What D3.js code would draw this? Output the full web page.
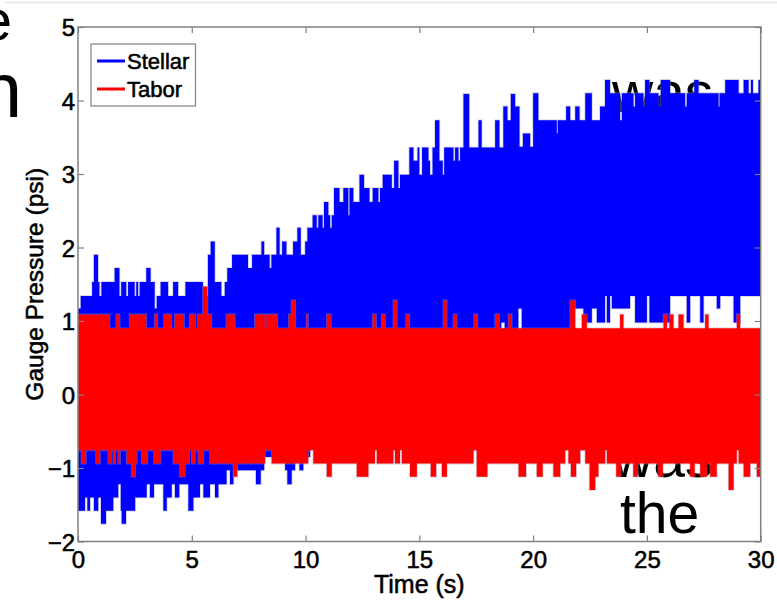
<!DOCTYPE html>
<html>
<head>
<meta charset="utf-8">
<script src="https://cdn.jsdelivr.net/npm/d3@7"></script>
<style>
  html, body { margin: 0; padding: 0; background: #ffffff; }
  svg { display: block; }
</style>
</head>
<body>
<svg id="chart" width="777" height="600"></svg>
<script>
// ---- data ---------------------------------------------------------------
const timeTicks = [0, 5, 10, 15, 20, 25, 30];
const pressureTicks = [-2, -1, 0, 1, 2, 3, 4, 5];
const seriesNames = ["Stellar", "Tabor"];
const seriesColors = ["#0000ff", "#ff0000"];
const xLabel = "Time (s)";
const yLabel = "Gauge Pressure (psi)";

// Each gauge signal is a dense, quantised trace; it is stored as the
// upper and lower envelope, [time (s), pressure (psi)], held until the next entry.
const stellarHigh = [[0,1.17],[0.12,1.34],[0.62,1.53],[0.70,1.90],[0.88,1.53],[0.94,1.34],[1.03,1.53],[1.61,1.72],[1.82,1.34],[1.90,1.53],[2.12,1.34],[2.20,1.53],[2.49,1.34],[2.56,1.53],[2.64,1.34],[2.71,1.53],[3.00,1.72],[3.19,1.53],[3.37,1.17],[3.46,1.34],[3.63,1.53],[3.96,1.34],[4.18,1.53],[4.40,1.34],[4.72,1.53],[5.49,1.34],[5.71,1.90],[5.83,2.08],[6.01,1.53],[6.30,1.34],[6.45,1.53],[6.56,1.72],[6.77,1.90],[7.47,1.72],[7.65,1.90],[8.06,2.08],[8.18,1.90],[8.42,1.72],[8.50,1.90],[8.72,2.27],[8.86,1.90],[8.97,2.08],[9.16,1.90],[9.45,2.08],[9.64,2.27],[9.79,1.90],[9.98,2.08],[10.08,2.27],[10.31,2.44],[10.49,2.27],[10.56,2.44],[10.75,2.27],[10.81,2.62],[11.00,2.44],[11.08,2.27],[11.15,2.44],[11.25,2.81],[11.49,2.62],[11.66,2.81],[11.88,2.44],[11.93,2.81],[12.10,2.62],[12.37,2.99],[12.57,2.81],[12.81,2.62],[12.95,2.81],[13.20,2.62],[13.27,2.81],[13.39,2.99],[13.79,2.81],[13.89,3.18],[14.08,2.81],[14.15,2.99],[14.56,3.36],[14.74,3.18],[14.92,3.36],[15.00,2.99],[15.12,3.36],[15.40,3.18],[15.47,2.99],[15.58,3.36],[15.69,3.73],[15.88,3.18],[16.03,2.99],[16.09,3.36],[16.50,3.18],[16.57,3.36],[16.72,3.18],[16.79,3.36],[16.94,4.09],[17.19,3.36],[17.60,3.73],[17.74,3.36],[18.33,3.73],[18.52,3.36],[18.69,3.92],[18.87,3.73],[19.02,4.09],[19.21,3.92],[19.40,3.37],[19.55,3.55],[19.87,3.37],[20.00,4.10],[20.23,3.73],[21.04,3.55],[21.08,3.73],[21.45,3.92],[21.63,3.73],[21.85,3.92],[22.04,3.73],[22.29,4.10],[22.58,3.73],[22.94,3.92],[23.16,4.28],[23.38,4.10],[23.82,3.73],[23.90,4.10],[24.41,3.92],[24.48,4.10],[24.85,3.92],[24.92,4.28],[25.11,4.10],[25.51,3.92],[25.61,4.28],[26.02,4.10],[26.68,3.92],[26.75,4.10],[27.08,4.28],[27.27,4.10],[28.15,3.92],[28.19,4.10],[28.44,4.28],[29.03,4.10],[29.25,4.28],[29.47,4.10],[29.57,4.28],[29.66,4.10],[29.90,4.28]];

const stellarLow = [[0,-1.58],[0.31,-1.40],[0.41,-1.58],[0.53,-1.40],[0.70,-1.58],[0.89,-1.40],[1.01,-1.76],[1.23,-1.58],[1.55,-1.40],[1.77,-1.22],[1.88,-1.58],[1.92,-1.76],[2.11,-1.58],[2.51,-1.40],[3.02,-1.22],[3.16,-1.40],[3.34,-1.22],[3.75,-1.58],[3.90,-1.40],[4.12,-1.22],[4.26,-1.40],[4.45,-1.22],[4.85,-1.58],[5.07,-1.40],[5.36,-1.22],[5.51,-1.40],[5.80,-1.22],[6.02,-1.40],[6.17,-1.22],[6.53,-1.03],[6.68,-1.22],[6.83,-1.03],[7.82,-1.22],[8.03,-1.03],[8.18,-0.85],[9.10,-1.03],[9.20,-1.22],[9.39,-1.03],[9.54,-0.85],[9.73,-1.03],[9.90,-0.85],[10.20,-0.67],[11,-0.48],[12,-0.30],[13,-0.12],[14,0.07],[15,0.25],[16,0.43],[17,0.62],[18,0.80],[18.60,0.98],[18.75,0.80],[19.35,1.17],[19.50,0.80],[21.77,1.17],[22.21,0.98],[22.58,1.17],[22.80,0.98],[23.16,1.34],[23.24,0.98],[23.38,1.34],[23.46,1.17],[24.26,1.34],[24.48,0.98],[25.00,1.34],[25.11,0.98],[26.02,1.34],[26.75,0.98],[26.90,1.34],[27.34,0.98],[27.49,1.34],[28.07,1.17],[28.22,1.34],[28.81,0.98],[29.10,1.34]];

const taborHigh = [[0,1.09],[1.39,0.90],[1.68,1.09],[1.83,0.90],[2.27,1.09],[3.00,0.90],[3.37,1.09],[3.49,0.90],[3.78,1.09],[4.10,0.90],[4.25,1.09],[4.66,0.90],[4.91,1.09],[5.16,0.90],[5.27,1.09],[5.49,1.47],[5.69,1.09],[5.86,0.90],[6.52,1.09],[6.89,0.90],[7.77,1.09],[8.21,0.90],[8.28,1.09],[8.76,0.90],[9.26,1.09],[9.38,1.28],[9.55,0.90],[10.04,1.09],[10.11,0.90],[10.93,1.09],[11.11,0.90],[12.95,1.09],[13.10,0.90],[13.35,1.09],[13.49,0.90],[13.86,1.28],[14.01,0.90],[14.42,1.09],[14.56,0.90],[16.06,1.28],[16.20,0.90],[16.50,1.09],[16.64,0.90],[17.41,1.09],[17.55,0.90],[18.33,1.09],[18.50,0.90],[18.92,1.09],[19.06,0.90],[21.63,1.28],[21.85,0.90],[22.14,1.09],[22.36,0.90],[23.82,1.09],[23.97,0.90],[25.73,1.09],[25.88,0.90],[25.99,1.09],[26.17,0.90],[26.39,1.09],[26.61,0.90],[27.56,1.09],[27.71,0.90],[28.95,1.09],[29.10,0.90]];

const taborLow = [[0,-0.76],[0.15,-0.94],[0.35,-0.76],[0.79,-0.94],[0.97,-0.76],[1.33,-0.94],[1.45,-0.76],[1.55,-0.94],[1.63,-0.76],[1.77,-0.94],[1.85,-0.76],[2.14,-0.94],[2.36,-1.12],[2.51,-0.94],[2.58,-0.76],[2.80,-0.94],[3.05,-0.76],[3.34,-0.94],[3.63,-0.76],[4.19,-0.94],[4.48,-1.12],[4.70,-0.94],[4.89,-0.76],[5.00,-0.94],[5.14,-0.76],[5.29,-0.94],[5.51,-0.76],[5.80,-0.94],[6.83,-1.12],[7.00,-0.94],[8.22,-0.76],[8.51,-0.94],[10.12,-0.76],[10.34,-0.94],[10.93,-1.12],[11.15,-0.94],[12.25,-1.12],[12.76,-0.94],[13.05,-0.76],[13.13,-0.94],[13.86,-0.76],[13.93,-0.94],[14.15,-0.76],[14.23,-0.94],[14.59,-1.12],[14.89,-0.94],[15.50,-1.12],[15.74,-0.94],[15.99,-1.12],[16.21,-0.94],[17.38,-0.76],[17.52,-1.12],[17.99,-0.94],[19.36,-1.12],[19.69,-0.94],[20.16,-1.12],[20.42,-0.94],[20.89,-1.12],[21.19,-0.94],[21.41,-0.76],[21.55,-0.94],[21.66,-1.12],[21.89,-0.94],[22.07,-0.76],[22.29,-0.94],[22.48,-1.30],[22.73,-1.12],[22.87,-0.94],[23.17,-0.76],[23.24,-0.94],[23.65,-1.12],[23.85,-0.94],[24.40,-1.12],[24.60,-0.94],[25.50,-1.12],[25.70,-0.94],[26.90,-1.12],[27.10,-0.94],[27.34,-1.12],[27.63,-0.94],[27.78,-1.12],[28.07,-0.94],[28.59,-1.30],[28.81,-0.94],[28.95,-0.76],[29.03,-0.94],[29.25,-1.12],[29.54,-0.94],[29.83,-1.12]];

// Words of the slide text that sits behind the figure
const slideWords = ["e", "n", "was", "was", "the"];

// ---- layout ----------------------------------------------------------------
const svg = d3.select("#chart");
const FONT = "'Liberation Sans', Arial, Helvetica, sans-serif";
const plot = { left: 78, right: 760.7, top: 27, bottom: 541.5 };

const x = d3.scaleLinear().domain([0, 30]).range([plot.left, plot.right]);
const y = d3.scaleLinear().domain([-2, 5]).range([plot.bottom, plot.top]);

svg.append("rect").attr("width", 777).attr("height", 600).attr("fill", "#ffffff");

// faint rule along the top of the slide
svg.append("line")
  .attr("x1", 5).attr("x2", 777).attr("y1", 2.5).attr("y2", 2.5)
  .attr("stroke", "#e4e4e4").attr("stroke-width", 1.5);

// slide text behind the plot
const wordPos = [
  { x: 12, y: 40, size: 58, anchor: "end" },
  { x: 22, y: 117, size: 77, anchor: "end" },
  { x: 612, y: 112, size: 57, anchor: "start" },
  { x: 612, y: 477, size: 57, anchor: "start" },
  { x: 620, y: 533, size: 57, anchor: "start" }
];
svg.append("g").selectAll("text")
  .data(slideWords)
  .join("text")
  .attr("x", (d, i) => wordPos[i].x)
  .attr("y", (d, i) => wordPos[i].y)
  .attr("text-anchor", (d, i) => wordPos[i].anchor)
  .attr("font-family", FONT)
  .attr("font-size", (d, i) => wordPos[i].size)
  .attr("fill", "#000000")
  .text(d => d);

// ---- envelopes -> step bands ----------------------------------------------
function valueAt(points, t) {
  let v = points[0][1];
  for (const p of points) {
    if (p[0] <= t) v = p[1]; else break;
  }
  return v;
}
function band(high, low) {
  const times = Array.from(new Set([...high.map(d => d[0]), ...low.map(d => d[0]), 30]))
    .sort((a, b) => a - b);
  return times.map(t => ({ t, hi: valueAt(high, t), lo: valueAt(low, t) }));
}

const area = d3.area()
  .x(d => x(d.t))
  .y0(d => y(d.lo))
  .y1(d => y(d.hi))
  .curve(d3.curveStepAfter);

const bands = [band(stellarHigh, stellarLow), band(taborHigh, taborLow)];

svg.append("defs").append("clipPath").attr("id", "plotClip")
  .append("rect")
  .attr("x", plot.left).attr("y", plot.top)
  .attr("width", plot.right - plot.left).attr("height", plot.bottom - plot.top);

svg.append("g").attr("clip-path", "url(#plotClip)")
  .selectAll("path")
  .data(bands)
  .join("path")
  .attr("d", area)
  .attr("fill", (d, i) => seriesColors[i])
  .attr("stroke", "rgba(150,150,185,0.45)")
  .attr("stroke-width", 1.6)
  .style("paint-order", "stroke");

// ---- axes box ---------------------------------------------------------------
const AXIS = "#808080";
const frame = svg.append("g");
frame.append("rect")
  .attr("x", plot.left).attr("y", plot.top)
  .attr("width", plot.right - plot.left).attr("height", plot.bottom - plot.top)
  .attr("fill", "none").attr("stroke", AXIS).attr("stroke-width", 1.5);

const xAxisB = d3.axisBottom(x).tickValues(timeTicks).tickSize(-6).tickFormat(d3.format("d"));
const xAxisT = d3.axisTop(x).tickValues(timeTicks).tickSize(-6).tickFormat("");
const yAxisL = d3.axisLeft(y).tickValues(pressureTicks).tickSize(-6).tickFormat(d3.format("d"));
const yAxisR = d3.axisRight(y).tickValues(pressureTicks).tickSize(-6).tickFormat("");

// slightly heavy strokes on the chart lettering
function heavyText(sel) {
  sel.attr("stroke", "#000000").attr("stroke-width", 0.55).attr("stroke-linejoin", "round");
}

function styleAxis(g) {
  g.select(".domain").remove();
  g.selectAll(".tick line").attr("stroke", AXIS).attr("stroke-width", 1.2);
  g.selectAll(".tick text")
    .attr("font-family", FONT).attr("font-size", 24).attr("fill", "#000000")
    .call(heavyText);
}

frame.append("g").attr("transform", `translate(0,${plot.bottom})`).call(xAxisB).call(styleAxis)
  .call(g => g.selectAll(".tick text").attr("y", 9).attr("dy", "0.71em"));
frame.append("g").attr("transform", `translate(0,${plot.top})`).call(xAxisT).call(styleAxis);
frame.append("g").attr("transform", `translate(${plot.left},0)`).call(yAxisL).call(styleAxis)
  .call(g => g.selectAll(".tick text").attr("x", -3).attr("dy", "0.36em"));
frame.append("g").attr("transform", `translate(${plot.right},0)`).call(yAxisR).call(styleAxis);

// axis titles
svg.append("text")
  .attr("x", (plot.left + plot.right) / 2).attr("y", 593)
  .attr("text-anchor", "middle")
  .attr("font-family", FONT).attr("font-size", 25).attr("fill", "#000000")
  .call(heavyText)
  .text(xLabel);
svg.append("text")
  .attr("transform", `translate(43,${(plot.top + plot.bottom) / 2}) rotate(-90)`)
  .attr("text-anchor", "middle")
  .attr("font-family", FONT).attr("font-size", 24.5).attr("fill", "#000000")
  .call(heavyText)
  .text(yLabel);

// ---- legend -----------------------------------------------------------------
const legend = svg.append("g").attr("transform", "translate(91,44)");
legend.append("rect")
  .attr("width", 104.5).attr("height", 62)
  .attr("fill", "#ffffff").attr("stroke", "#8a8a8a").attr("stroke-width", 1.3);
const entries = legend.selectAll("g.entry")
  .data(seriesNames)
  .join("g").attr("class", "entry")
  .attr("transform", (d, i) => `translate(0,${17 + i * 28})`);
entries.append("line")
  .attr("x1", 6).attr("x2", 34).attr("y1", 0).attr("y2", 0)
  .attr("stroke", (d, i) => seriesColors[i]).attr("stroke-width", 3);
entries.append("text")
  .attr("x", 36).attr("y", 0).attr("dy", "0.36em")
  .attr("font-family", FONT).attr("font-size", 22).attr("fill", "#000000")
  .call(heavyText)
  .text(d => d);
</script>
</body>
</html>
